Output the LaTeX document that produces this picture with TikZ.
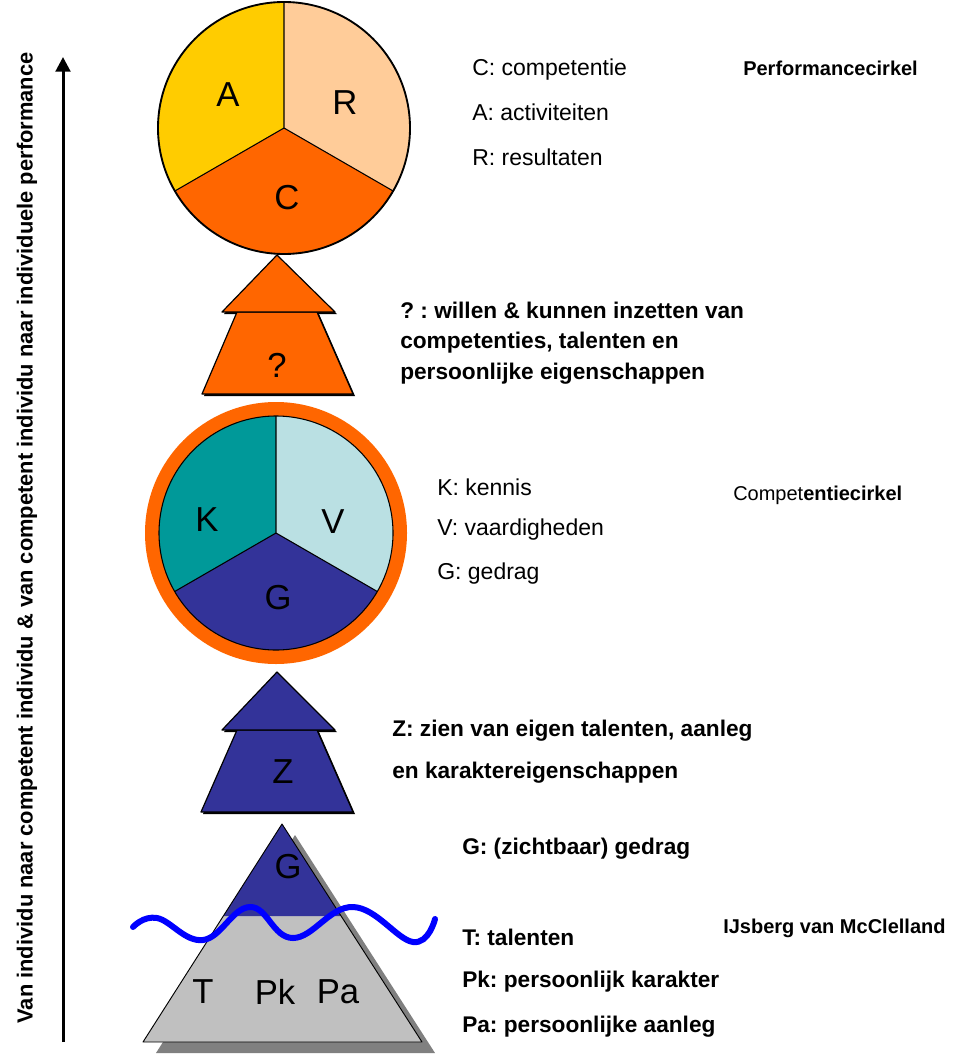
\documentclass[tikz,border=0pt]{standalone}
\usepackage{fontspec}
\setmainfont{Liberation Sans}
\usetikzlibrary{arrows.meta}
\frenchspacing
\definecolor{ayellow}{HTML}{FFCC00}
\definecolor{apeach}{HTML}{FFCC99}
\definecolor{aorange}{HTML}{FF6600}
\definecolor{kteal}{HTML}{009999}
\definecolor{vcyan}{HTML}{BAE0E3}
\definecolor{gblue}{HTML}{333399}
\definecolor{icegray}{HTML}{C0C0C0}
\definecolor{shadowgray}{HTML}{808080}
\definecolor{wavecol}{HTML}{0000FF}
\begin{document}
\begin{tikzpicture}[x=0.75pt,y=-0.75pt,
  seglabel/.style={font=\fontsize{26pt}{30pt}\selectfont, inner sep=0pt},
  plaintxt/.style={font=\fontsize{17.25pt}{20pt}\selectfont, anchor=west, inner sep=0pt},
  boldtxt/.style={font=\bfseries\fontsize{17pt}{23pt}\selectfont, anchor=west, inner sep=0pt, align=left},
  titletxt/.style={font=\bfseries\fontsize{15pt}{18pt}\selectfont, anchor=west, inner sep=0pt},
  segline/.style={draw=black, line width=0.8pt},
  shapeline/.style={draw=black, line width=0.9pt, line join=round},
  shadowfill/.style={fill=black},
  wave/.style={draw=wavecol, line width=4.5pt, line cap=round}
]
\useasboundingbox (0,0) rectangle (970,1055);

% ---------- vertical axis ----------
\coordinate (axB) at (63,1042);
\coordinate (axT) at (63,57);
\draw[line width=2.25pt, -{Triangle[width=11pt,length=11pt]}] (axB) -- (axT);
\node[font=\bfseries\fontsize{16.4pt}{19pt}\selectfont, rotate=90, inner sep=0pt] (axlabel) at (27,538)
  {Van individu naar competent individu \& van competent individu naar individuele performance};

% ---------- performance circle ----------
\coordinate (c1) at (284,128);
\fill[ayellow] (c1) -- ++(90:94.5pt) arc[start angle=90, end angle=210, radius=94.5pt] -- cycle;
\fill[apeach] (c1) -- ++(-30:94.5pt) arc[start angle=-30, end angle=90, radius=94.5pt] -- cycle;
\fill[aorange] (c1) -- ++(210:94.5pt) arc[start angle=210, end angle=330, radius=94.5pt] -- cycle;
\draw[segline] (c1) -- ++(90:94.5pt) (c1) -- ++(210:94.5pt) (c1) -- ++(330:94.5pt);
\draw[segline, line width=1.4pt] (c1) circle[radius=94.5pt];
\node[seglabel] (lA) at (228,95) {A};
\node[seglabel] (lR) at (345,103) {R};
\node[seglabel] (lC) at (287,198) {C};

% ---------- orange arrow ----------
\fill[shadowfill] (239,314) -- (319,314) -- (355,396) -- (204,396) -- cycle;
\fill[shadowfill] (278,257) -- (224,314) -- (337,314) -- cycle;
\filldraw[fill=aorange, shapeline] (237,312) -- (317,312) -- (353,394) -- (202,394) -- cycle;
\filldraw[fill=aorange, shapeline] (277,255) -- (222,312) -- (335,312) -- cycle;
\node[seglabel] (lQ) at (277,365) {?};

% ---------- competence circle ----------
\coordinate (c2) at (276,533);
\draw[aorange, line width=10.5pt] (c2) circle[radius=93pt];
\fill[kteal] (c2) -- ++(90:87.75pt) arc[start angle=90, end angle=210, radius=87.75pt] -- cycle;
\fill[vcyan] (c2) -- ++(-30:87.75pt) arc[start angle=-30, end angle=90, radius=87.75pt] -- cycle;
\fill[gblue] (c2) -- ++(210:87.75pt) arc[start angle=210, end angle=330, radius=87.75pt] -- cycle;
\draw[segline] (c2) -- ++(90:87.75pt) (c2) -- ++(210:87.75pt) (c2) -- ++(330:87.75pt);
\draw[segline] (c2) circle[radius=87.75pt];
\node[seglabel] (lK) at (207,520) {K};
\node[seglabel] (lV) at (333,522) {V};
\node[seglabel] (lG) at (278,598) {G};

% ---------- blue arrow ----------
\fill[shadowfill] (239,732) -- (319,732) -- (355,814) -- (203,814) -- cycle;
\fill[shadowfill] (278,674) -- (224,732) -- (337,732) -- cycle;
\filldraw[fill=gblue, shapeline] (237,730) -- (317,730) -- (353,812) -- (201,812) -- cycle;
\filldraw[fill=gblue, shapeline] (277,672) -- (222,730) -- (335,730) -- cycle;
\node[seglabel] (lZ) at (283,772) {Z};

% ---------- iceberg ----------
\fill[shadowgray] (295,835) -- (156,1053) -- (435,1053) -- cycle;
\fill[icegray] (223.3,916) -- (341,916) -- (422,1042) -- (143,1042) -- cycle;
\fill[gblue] (282,824) -- (223.3,916) -- (341,916) -- cycle;
\draw[shapeline, line width=0.7pt] (282,824) -- (143,1042) -- (422,1042) -- cycle;
\node[seglabel] (lGi) at (288,867) {G};
\node[seglabel] (lT) at (203,992) {T};
\node[seglabel] (lPk) at (275,992) {Pk};
\node[seglabel] (lPa) at (338,992) {Pa};
\draw[wave] plot[smooth, tension=0.7] coordinates {(133,927) (157,918) (203,940) (250,907) (293,938) (353,907) (413,942) (435,919)};

% ---------- texts ----------
\node[plaintxt] (tC) at (472,70) {C: competentie};
\node[plaintxt] (tA) at (472,112) {A: activiteiten};
\node[plaintxt] (tR) at (472,157) {R: resultaten};
\node[titletxt] (tPerf) at (743,68) {Performancecirkel};

\node[boldtxt] (tQ) at (400,343) {? : willen \& kunnen inzetten van\\competenties, talenten en\\persoonlijke eigenschappen};

\node[plaintxt] (tK) at (437,487) {K: kennis};
\node[plaintxt] (tV) at (437,530) {V: vaardigheden};
\node[plaintxt] (tG) at (437,574) {G: gedrag};
\node[titletxt] (tComp) at (733,495) {{\mdseries Compet}entiecirkel};

\node[boldtxt] (tZ1) at (392,731) {Z: zien van eigen talenten, aanleg};
\node[boldtxt] (tZ2) at (392,773) {en karaktereigenschappen};

\node[boldtxt] (tGz) at (462,849) {G: (zichtbaar) gedrag};
\node[boldtxt] (tT) at (462,937) {T: talenten};
\node[boldtxt] (tPk) at (462,982) {Pk: persoonlijk karakter};
\node[boldtxt] (tPa) at (462,1027) {Pa: persoonlijke aanleg};
\node[titletxt] (tIJ) at (723,928) {IJsberg van McClelland};
\end{tikzpicture}
\end{document}
